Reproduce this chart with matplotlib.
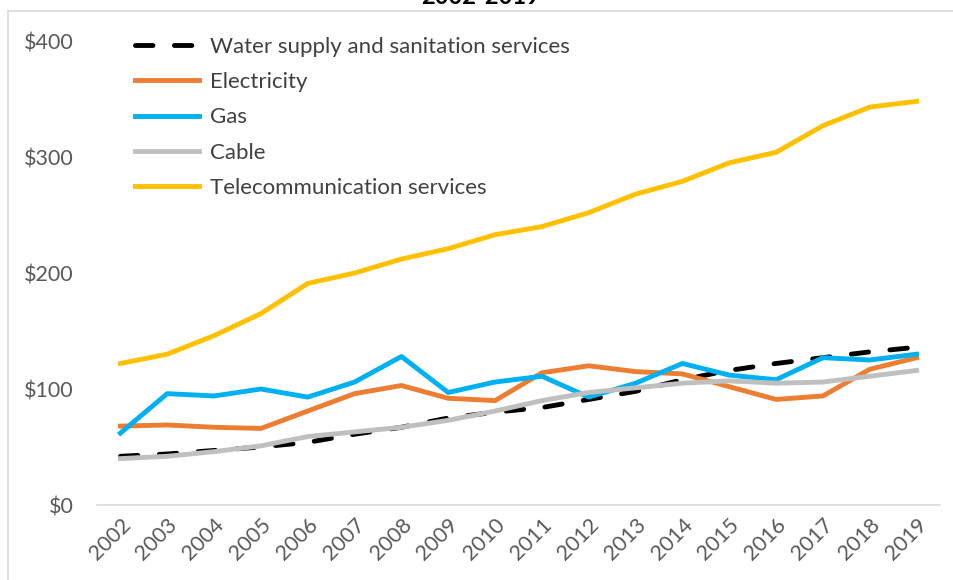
import numpy as np
import matplotlib
matplotlib.use("Agg")
import matplotlib.pyplot as plt
from matplotlib.lines import Line2D

plt.rcParams['font.family'] = ['Lato', 'DejaVu Sans']

# values
years = [str(y) for y in range(2002, 2020)]
water = [42, 44, 47, 50, 54, 61, 67, 75, 80, 84, 91, 98, 108, 116, 122, 127, 132, 136]
electricity = [68, 69, 67, 66, 81, 96, 103, 92, 90, 114, 120, 115, 113, 102, 91, 94, 117, 127]
gas = [62, 96, 94, 100, 93, 106, 128, 97, 106, 111, 93, 105, 122, 112, 108, 127, 125, 130]
cable = [40, 42, 46, 51, 59, 63, 67, 73, 81, 90, 97, 101, 105, 107, 105, 106, 111, 116]
telecom = [122, 130, 146, 165, 191, 200, 212, 221, 233, 240, 252, 268, 279, 295, 304, 327, 343, 348]
yticks = [0, 100, 200, 300, 400]

fig = plt.figure(figsize=(9.54, 5.8), dpi=100)
ax = fig.add_axes([97/954, 75/580, 843/954, 464/580])

x = np.arange(len(years))
lw = 3.5
ax.plot(x, water, color='black', lw=lw, dashes=(3.6, 4.4), dash_capstyle='round',
        label='Water supply and sanitation services')
ax.plot(x, electricity, color='#ED7D31', lw=lw, label='Electricity')
ax.plot(x, gas, color='#00B0F0', lw=lw, label='Gas')
ax.plot(x, cable, color='#BFBFBF', lw=lw, label='Cable')
ax.plot(x, telecom, color='#FFC000', lw=lw, label='Telecommunication services')

ax.set_xlim(-0.5, len(years) - 0.5)
ax.set_ylim(0, 400)
ax.set_yticks(yticks)
ax.set_yticklabels(['$' + str(v) for v in yticks])
ax.set_xticks(x)
ax.set_xticklabels(years, rotation=45, ha='right', rotation_mode='anchor')
ax.tick_params(axis='y', length=0, pad=17, labelsize=15.5, labelcolor='#595959')
ax.tick_params(axis='x', length=0, pad=7, labelsize=15.5, labelcolor='#595959')

for s in ['top', 'right', 'left']:
    ax.spines[s].set_visible(False)
ax.spines['bottom'].set_color('#D9D9D9')
ax.spines['bottom'].set_linewidth(1.2)

leg = ax.legend(loc='upper left', bbox_to_anchor=(0.045, 1.009), frameon=False,
                fontsize=16, handlelength=2.9, handletextpad=0.5,
                labelspacing=0.69, borderpad=0, borderaxespad=0)
for t in leg.get_texts():
    t.set_color('#404040')

# title of the original chart is cut off at the top edge
fig.text(481/954, 1 - 4/580, '2002-2019', ha='center', va='baseline',
         fontsize=17, fontweight='bold')

# chart frame
fig.add_artist(Line2D([8/954, 1], [1 - 11/580, 1 - 11/580], color='#D9D9D9', lw=1.2))
fig.add_artist(Line2D([8/954, 8/954], [0, 1 - 11/580], color='#D9D9D9', lw=1.2))

fig.savefig('out.png', dpi=100)
